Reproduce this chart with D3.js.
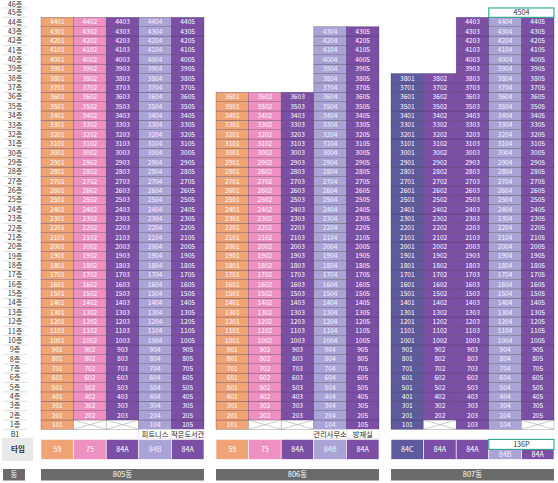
<!DOCTYPE html>
<html>
<head>
<meta charset="utf-8">
<script src="https://cdn.jsdelivr.net/npm/d3@7"></script>
<style>
  body { margin: 0; background: #fff; }
  text { font-family: "Noto Sans CJK KR", "Noto Sans", sans-serif; }
</style>
</head>
<body>
<svg id="chart" width="558" height="483"></svg>
<script>
// ---- data ----
const buildings = ["805동", "806동", "807동"];
const columns = [1, 2, 3, 4, 5];
const floors = [46, 45, 44, 43, 42, 41, 40, 39, 38, 37, 36, 35, 34, 33, 32, 31, 30, 29, 28, 27, 26, 25, 24,
  23, 22, 21, 20, 19, 18, 17, 16, 15, 14, 13, 12, 11, 10, 9, 8, 7, 6, 5, 4, 3, 2, 1];

const types805 = ["59", "75", "84A", "84B", "84A"];
const types806 = ["59", "75", "84A", "84B", "84A"];
const types807 = ["84C", "84A", "84A", "84B", "84A"];

const topFloors805 = [44, 44, 44, 44, 44];
const topFloors806 = [36, 36, 36, 43, 43];
const topFloors807 = [38, 38, 44, 44, 44];

// columns with no unit on 1층 (crossed cells)
const emptyFirst805 = [2, 3];
const emptyFirst806 = [2, 3];
const emptyFirst807 = [2, 5];

// B1 facilities per column
const b1805 = ["", "", "", "피트니스", "작은도서관"];
const b1806 = ["", "", "", "관리사무소", "방재실"];
const b1807 = ["", "", "", "", ""];

// penthouse on top of 807동
const penthouseBuilding = "807동";
const penthouseFloor = 45;
const penthouseUnit = "4504";
const penthouseType = "136P";
const penthouseCols = [4, 5];

const typeColors = { "59": "#f0a476", "75": "#ef90c2", "84A": "#7c4fa7", "84B": "#aaa4d6", "84C": "#5e5a9d" };

// table built from the arrays above
const table = [
  { name: buildings[0], types: types805, tops: topFloors805, empty: emptyFirst805, b1: b1805 },
  { name: buildings[1], types: types806, tops: topFloors806, empty: emptyFirst806, b1: b1806 },
  { name: buildings[2], types: types807, tops: topFloors807, empty: emptyFirst807, b1: b1807 }
];

// ---- layout ----
const svg = d3.select("#chart");
const rowKeys = floors.map(String).concat(["B1"]);

const xB = d3.scaleBand().domain(buildings).range([41, 554]).paddingInner(12 / 175);
const xC = d3.scaleBand().domain(columns).range([0, xB.bandwidth()]);
const y = d3.scaleBand().domain(rowKeys).range([-1.4, 438.7]);

const typeTop = 439.4, typeH = 20;
const dongTop = 469, dongH = 11.5;
const labelX = 15;

// floor labels column
const lab = svg.append("g");
lab.selectAll("line")
  .data(rowKeys)
  .join("line")
  .attr("x1", 3).attr("x2", 27)
  .attr("y1", d => y(d) + y.bandwidth())
  .attr("y2", d => y(d) + y.bandwidth())
  .attr("stroke", "#c8c8c8")
  .attr("stroke-width", 0.6);

lab.selectAll("text")
  .data(rowKeys)
  .join("text")
  .attr("x", labelX)
  .attr("y", d => Math.max(4.2, y(d) + y.bandwidth() / 2))
  .attr("dy", "0.35em")
  .attr("text-anchor", "middle")
  .attr("font-size", 7.2)
  .attr("fill", "#333")
  .text(d => d === "B1" ? "B1" : d + "층");

// 타입 / 동 labels
lab.append("rect")
  .attr("x", 2).attr("y", typeTop - 1.5).attr("width", 31).attr("height", typeH + 3)
  .attr("fill", "#e9e9e9");
lab.append("text")
  .attr("x", 18).attr("y", typeTop + typeH / 2).attr("dy", "0.35em")
  .attr("text-anchor", "middle").attr("font-size", 7.5).attr("font-weight", "bold")
  .attr("fill", "#333").text("타입");
lab.append("rect")
  .attr("x", 3).attr("y", dongTop).attr("width", 22).attr("height", dongH)
  .attr("fill", "#6b6b6b");
lab.append("text")
  .attr("x", 14).attr("y", dongTop + dongH / 2).attr("dy", "0.35em")
  .attr("text-anchor", "middle").attr("font-size", 7.5)
  .attr("fill", "#fff").text("동");

// buildings
table.forEach(b => {
  const g = svg.append("g").attr("transform", `translate(${xB(b.name)},0)`);

  const cells = [];
  columns.forEach((c, i) => {
    for (let f = 1; f <= b.tops[i]; f++) {
      cells.push({ col: c, floor: f, type: b.types[i], empty: f === 1 && b.empty.includes(c) });
    }
  });

  const cg = g.selectAll("g.cell")
    .data(cells)
    .join("g")
    .attr("class", "cell")
    .attr("transform", d => `translate(${xC(d.col)},${y(String(d.floor))})`);

  cg.append("rect")
    .attr("width", xC.bandwidth())
    .attr("height", y.bandwidth())
    .attr("fill", d => d.empty ? "#fff" : typeColors[d.type])
    .attr("stroke", d => d.empty ? "#999" : "#3b2b45")
    .attr("stroke-opacity", d => d.empty ? 1 : 0.55)
    .attr("stroke-width", 0.5);

  cg.filter(d => d.empty).each(function () {
    const s = d3.select(this);
    const w = xC.bandwidth(), h = y.bandwidth();
    s.append("line").attr("x1", 0).attr("y1", 0).attr("x2", w).attr("y2", h)
      .attr("stroke", "#999").attr("stroke-width", 0.5);
    s.append("line").attr("x1", 0).attr("y1", h).attr("x2", w).attr("y2", 0)
      .attr("stroke", "#999").attr("stroke-width", 0.5);
  });

  cg.filter(d => !d.empty).append("text")
    .attr("x", xC.bandwidth() / 2)
    .attr("y", y.bandwidth() / 2)
    .attr("dy", "0.36em")
    .attr("text-anchor", "middle")
    .attr("font-size", 6.6)
    .attr("fill", d => d.type === "84B" ? "#f4f3ff" : "#fff")
    .text(d => d.floor + String(d.col).padStart(2, "0"));

  // B1 facilities
  const b1 = b.b1.map((t, i) => ({ col: columns[i], text: t })).filter(d => d.text);
  const bg = g.selectAll("g.b1")
    .data(b1)
    .join("g")
    .attr("class", "b1")
    .attr("transform", d => `translate(${xC(d.col)},${y("B1")})`);
  bg.append("rect")
    .attr("width", xC.bandwidth()).attr("height", y.bandwidth())
    .attr("fill", "#fff").attr("stroke", "#ccc").attr("stroke-width", 0.4);
  bg.append("text")
    .attr("x", xC.bandwidth() / 2).attr("y", y.bandwidth() / 2).attr("dy", "0.36em")
    .attr("text-anchor", "middle").attr("font-size", 7.2).attr("fill", "#222")
    .text(d => d.text);

  // type row
  const isPH = b.name === penthouseBuilding;
  const tg = g.selectAll("g.type")
    .data(columns.map((c, i) => ({ col: c, type: b.types[i], split: isPH && penthouseCols.includes(c) })))
    .join("g")
    .attr("class", "type")
    .attr("transform", d => `translate(${xC(d.col)},${d.split ? typeTop + typeH / 2 : typeTop})`);
  tg.append("rect")
    .attr("width", xC.bandwidth())
    .attr("height", d => d.split ? typeH / 2 : typeH)
    .attr("fill", d => typeColors[d.type])
    .attr("stroke", "#fff").attr("stroke-width", 0.6);
  tg.append("text")
    .attr("x", xC.bandwidth() / 2)
    .attr("y", d => (d.split ? typeH / 2 : typeH) / 2)
    .attr("dy", "0.36em")
    .attr("text-anchor", "middle").attr("font-size", 7.2)
    .attr("fill", d => d.type === "84B" ? "#eeeeff" : "#fff")
    .text(d => d.type);

  if (isPH) {
    const px = xC(penthouseCols[0]);
    const pw = xC(penthouseCols[penthouseCols.length - 1]) + xC.bandwidth() - px;
    const boxes = [
      { top: y(String(penthouseFloor)), h: y.bandwidth(), text: penthouseUnit },
      { top: typeTop, h: typeH / 2, text: penthouseType }
    ];
    const pg = g.selectAll("g.ph").data(boxes).join("g").attr("class", "ph")
      .attr("transform", d => `translate(${px},${d.top})`);
    pg.append("rect")
      .attr("width", pw).attr("height", d => d.h)
      .attr("fill", "#fff").attr("stroke", "#2aa58e").attr("stroke-width", 1.1);
    pg.append("text")
      .attr("x", pw / 2).attr("y", d => d.h / 2).attr("dy", "0.36em")
      .attr("text-anchor", "middle").attr("font-size", 7.2).attr("fill", "#333")
      .text(d => d.text);
  }

  // 동 bar
  g.append("rect")
    .attr("x", 0).attr("y", dongTop)
    .attr("width", xB.bandwidth()).attr("height", dongH)
    .attr("fill", "#6b6b6b");
  g.append("text")
    .attr("x", xB.bandwidth() / 2).attr("y", dongTop + dongH / 2).attr("dy", "0.36em")
    .attr("text-anchor", "middle").attr("font-size", 7.5).attr("fill", "#fff")
    .text(b.name);
});
</script>
</body>
</html>
